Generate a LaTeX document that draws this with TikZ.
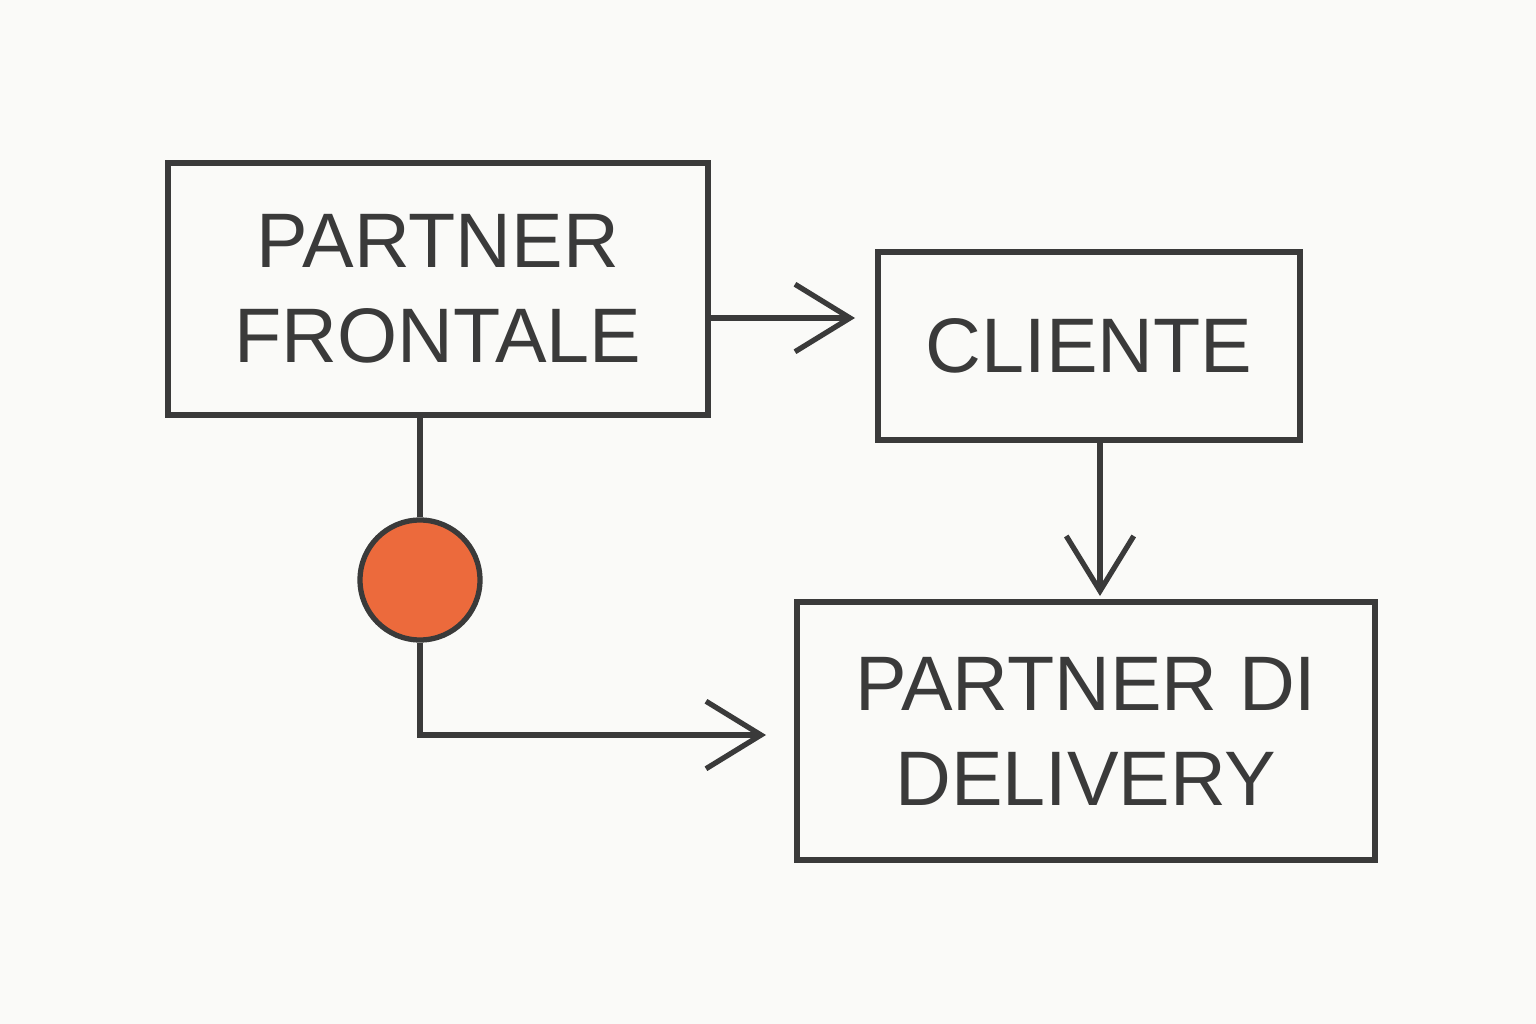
\documentclass[tikz,border=0pt]{standalone}
\usepackage{fontspec}
\setmainfont{Liberation Sans}
\usetikzlibrary{arrows.meta}
\definecolor{ink}{HTML}{3A3A3A}
\definecolor{paper}{HTML}{FAFAF8}
\definecolor{dotfill}{HTML}{EC6A3C}
\begin{document}
\begin{tikzpicture}[x=0.02cm,y=-0.02cm,
  boxnode/.style={draw=ink,line width=3.6pt,inner sep=0pt,align=center,
    font=\fontsize{44}{54}\selectfont,text=ink},
  link/.style={draw=ink,line width=3pt},
  tip/.style={-{Straight Barb[length=1.1cm,width=1.35cm,line width=3pt]}}]
\fill[paper] (0,0) rectangle (1536,1024);
\useasboundingbox (0,0) rectangle (1536,1024);
\node[boxnode,minimum width=10.8cm,minimum height=5.04cm] (front) at (438,289) {PARTNER\\FRONTALE};
\node[boxnode,minimum width=8.44cm,minimum height=3.76cm] (cli) at (1089,346) {CLIENTE};
\node[boxnode,minimum width=11.56cm,minimum height=5.16cm] (deliv) at (1086,731) {PARTNER DI\\DELIVERY};
\node[circle,draw=ink,fill=dotfill,line width=3pt,minimum size=2.4cm,inner sep=0pt] (dot) at (420,580) {};
\coordinate (a1) at (855,318);
\coordinate (a2) at (1100,596);
\coordinate (a3) at (766,735);
\coordinate (bend) at (420,735);
\draw[link,tip] (front.east |- a1) -- (a1);
\draw[link,tip] (a2 |- cli.south) -- (a2);
\draw[link] (front.south -| dot) -- (dot.north);
\draw[link,tip] (dot.south) -- (bend) -- (a3);
\end{tikzpicture}
\end{document}
